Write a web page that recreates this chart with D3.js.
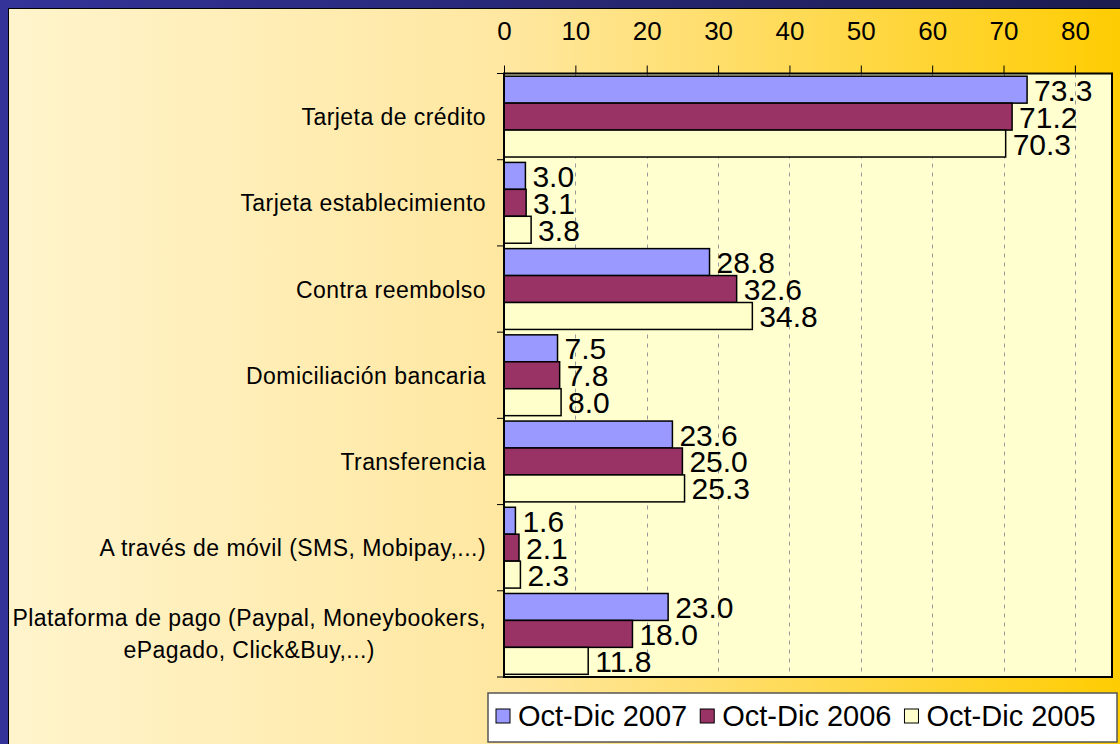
<!DOCTYPE html>
<html>
<head>
<meta charset="utf-8">
<script src="https://cdn.jsdelivr.net/npm/d3@7"></script>
<style>
    body { margin: 0; background: #fff; }
    svg { display: block; font-family: "Liberation Sans", Arial, sans-serif; }
</style>
</head>
<body>
<svg id="chart"></svg>
<script>
// Chart data
let categories = [
    'Tarjeta de crédito',
    'Tarjeta establecimiento',
    'Contra reembolso',
    'Domiciliación bancaria',
    'Transferencia',
    'A través de móvil (SMS, Mobipay,...)',
    'Plataforma de pago (Paypal, Moneybookers,\nePagado, Click&Buy,...)'
];
let seriesNames = ['Oct-Dic 2007', 'Oct-Dic 2006', 'Oct-Dic 2005'];
let values2007 = [73.3, 3.0, 28.8, 7.5, 23.6, 1.6, 23.0];
let values2006 = [71.2, 3.1, 32.6, 7.8, 25.0, 2.1, 18.0];
let values2005 = [70.3, 3.8, 34.8, 8.0, 25.3, 2.3, 11.8];
let xTicks = [0, 10, 20, 30, 40, 50, 60, 70, 80];

// Global settings
let c = {
    svg: { width: 1120, height: 744, border: 8 },
    plot: { left: 504, top: 73.5, right: 1112, bottom: 677, xMax: 85.2 },
    colors: ['#9999ff', '#993366', '#ffffcc'],
    legend: { x: 488, y: 693, width: 629, height: 49 }
};

/**
 * Draw the whole chart
 */
function drawChart() {
    let svg = d3.select('#chart')
        .attr('width', c.svg.width)
        .attr('height', c.svg.height);

    let defs = svg.append('defs');
    let frameGrad = defs.append('linearGradient').attr('id', 'frameGrad');
    frameGrad.append('stop').attr('offset', '0%').attr('stop-color', '#333399');
    frameGrad.append('stop').attr('offset', '100%').attr('stop-color', '#1c1c50');
    let bgGrad = defs.append('linearGradient').attr('id', 'bgGrad');
    bgGrad.append('stop').attr('offset', '0%').attr('stop-color', '#fff4cc');
    bgGrad.append('stop').attr('offset', '45%').attr('stop-color', '#ffe7a0');
    bgGrad.append('stop').attr('offset', '100%').attr('stop-color', '#ffcc00');

    // Frame and background
    svg.append('rect')
        .attr('width', c.svg.width)
        .attr('height', c.svg.height)
        .attr('fill', 'url(#frameGrad)');
    svg.append('rect')
        .attr('x', c.svg.border + 0.5)
        .attr('y', c.svg.border + 0.5)
        .attr('width', c.svg.width)
        .attr('height', c.svg.height)
        .attr('fill', 'url(#bgGrad)')
        .attr('stroke', '#000')
        .attr('stroke-width', 1);

    let p = c.plot;
    let series = [values2007, values2006, values2005];

    // Scales
    let x = d3.scaleLinear()
        .domain([0, p.xMax])
        .range([p.left, p.right]);
    let y0 = d3.scaleBand()
        .domain(categories)
        .range([p.top, p.bottom]);
    let y1 = d3.scaleBand()
        .domain(seriesNames)
        .range([0, y0.bandwidth()])
        .paddingOuter(0.1);

    // Plot area
    svg.append('rect')
        .attr('x', p.left)
        .attr('y', p.top)
        .attr('width', p.right - p.left)
        .attr('height', p.bottom - p.top)
        .attr('fill', '#ffffd0');

    // Dashed gridlines
    svg.append('g')
        .selectAll('line')
        .data(xTicks.filter(d => d > 0))
        .join('line')
        .attr('x1', d => Math.round(x(d)) + 0.5)
        .attr('x2', d => Math.round(x(d)) + 0.5)
        .attr('y1', p.top)
        .attr('y2', p.bottom)
        .attr('stroke', '#999')
        .attr('stroke-dasharray', '4,5');

    // Bars
    let groups = svg.append('g')
        .selectAll('g')
        .data(categories)
        .join('g')
        .attr('transform', d => translate(0, y0(d)));

    groups.selectAll('rect')
        .data((d, i) => seriesNames.map((s, j) => ({ s: s, j: j, v: series[j][i] })))
        .join('rect')
        .attr('x', x(0))
        .attr('y', d => y1(d.s))
        .attr('width', d => x(d.v) - x(0))
        .attr('height', y1.bandwidth())
        .attr('fill', d => c.colors[d.j])
        .attr('stroke', '#000')
        .attr('stroke-width', 1.5);

    groups.selectAll('text')
        .data((d, i) => seriesNames.map((s, j) => ({ s: s, j: j, v: series[j][i] })))
        .join('text')
        .attr('x', d => x(d.v) + 7)
        .attr('y', d => y1(d.s) + y1.bandwidth() / 2 + 11)
        .attr('font-size', 30)
        .attr('fill', '#000')
        .text(d => d3.format('.1f')(d.v));

    // Plot border
    svg.append('rect')
        .attr('x', p.left)
        .attr('y', p.top)
        .attr('width', p.right - p.left)
        .attr('height', p.bottom - p.top)
        .attr('fill', 'none')
        .attr('stroke', '#000')
        .attr('stroke-width', 2);

    // Value axis on top
    let xAxis = d3.axisTop(x)
        .tickValues(xTicks)
        .tickSize(8)
        .tickPadding(26);
    let gx = svg.append('g')
        .attr('transform', translate(0, p.top))
        .call(xAxis);
    gx.select('.domain').remove();
    gx.selectAll('.tick line').attr('stroke', '#000');
    gx.selectAll('.tick text')
        .attr('font-size', 26)
        .attr('font-family', '"Liberation Sans", Arial, sans-serif')
        .attr('fill', '#000');

    // Category boundary ticks
    let bounds = categories.map(d => y0(d)).concat([p.bottom]);
    svg.append('g')
        .selectAll('line')
        .data(bounds)
        .join('line')
        .attr('x1', p.left - 7)
        .attr('x2', p.left)
        .attr('y1', d => d)
        .attr('y2', d => d)
        .attr('stroke', '#000');

    // Category labels (multi-line ones are centred in their own box)
    let labelRight = p.left - 18;
    categories.forEach(cat => {
        let lines = cat.split('\n');
        let cy = y0(cat) + y0.bandwidth() / 2;
        let lh = 32;
        let txt = svg.append('text')
            .attr('font-size', 23)
            .attr('letter-spacing', 0.45)
            .attr('fill', '#000');
        lines.forEach((ln, k) => {
            txt.append('tspan')
                .attr('y', cy + 8.5 + (k - (lines.length - 1) / 2) * lh)
                .text(ln);
        });
        let widths = [];
        txt.selectAll('tspan').each(function () { widths.push(this.getComputedTextLength()); });
        let w = d3.max(widths);
        txt.selectAll('tspan')
            .attr('x', labelRight - w / 2)
            .attr('text-anchor', 'middle');
    });

    // Legend
    let L = c.legend;
    let lg = svg.append('g');
    lg.append('rect')
        .attr('x', L.x)
        .attr('y', L.y)
        .attr('width', L.width)
        .attr('height', L.height)
        .attr('fill', '#fff')
        .attr('stroke', '#555')
        .attr('stroke-width', 1.5);
    let lx = L.x + 8;
    seriesNames.forEach((s, j) => {
        lg.append('rect')
            .attr('x', lx)
            .attr('y', L.y + 16)
            .attr('width', 14)
            .attr('height', 14)
            .attr('fill', c.colors[j])
            .attr('stroke', '#000');
        let t = lg.append('text')
            .attr('x', lx + 22)
            .attr('y', L.y + 32.5)
            .attr('font-size', 29)
            .attr('fill', '#000')
            .text(s);
        lx += 22 + t.node().getComputedTextLength() + 13;
    });
}

/**
 * Small helper to build translate strings
 */
function translate(x, y) {
    return 'translate(' + x + ',' + y + ')';
}

drawChart();
</script>
</body>
</html>
